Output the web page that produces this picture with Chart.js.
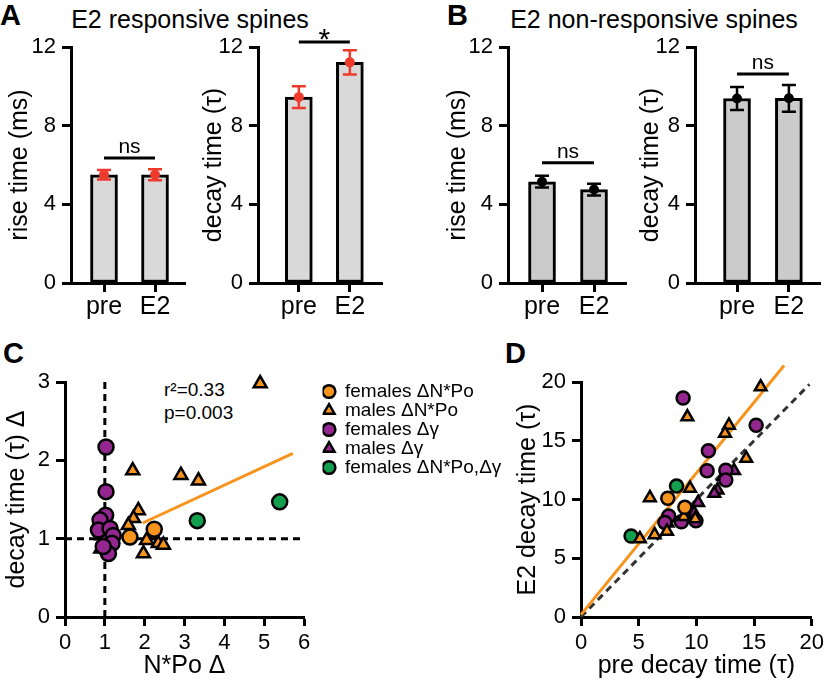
<!DOCTYPE html>
<html>
<head>
<meta charset="utf-8">
<script src="https://cdn.jsdelivr.net/npm/chart.js@4.4.0/dist/chart.umd.min.js"></script>
<style>
  body { margin: 0; background: #fff; }
  #fig { position: relative; width: 828px; height: 683px; overflow: hidden; font-family: 'Liberation Sans', Arial, sans-serif; color: #000; }
  #fig canvas { position: absolute; }
  .lab { position: absolute; font-weight: bold; font-size: 29px; line-height: 1; }
  .ttl { position: absolute; font-size: 25px; line-height: 1; white-space: nowrap; transform: translateX(-50%); }
  .stat { position: absolute; font-size: 19px; line-height: 1; white-space: nowrap; }
</style>
</head>
<body>
<div id="fig">
  <div class="lab" style="left:0px;top:1px">A</div>
  <div class="lab" style="left:447px;top:1px">B</div>
  <div class="lab" style="left:3px;top:339px">C</div>
  <div class="lab" style="left:505px;top:339px">D</div>
  <div class="ttl" style="left:190px;top:7px">E2 responsive spines</div>
  <div class="ttl" style="left:654px;top:7px">E2 non-responsive spines</div>
  <div class="stat" style="left:164px;top:380px">r²=0.33</div>
  <div class="stat" style="left:164px;top:403px">p=0.003</div>

  <canvas id="aRise" width="199" height="310" style="left:1px;top:20px"></canvas>
  <canvas id="aDecay" width="205" height="310" style="left:195px;top:20px"></canvas>
  <canvas id="bRise" width="201" height="310" style="left:439px;top:20px"></canvas>
  <canvas id="bDecay" width="196" height="310" style="left:632px;top:20px"></canvas>
  <canvas id="cScatter" width="522" height="353" style="left:-2px;top:330px"></canvas>
  <canvas id="dScatter" width="319" height="353" style="left:509px;top:330px"></canvas>
</div>
<script>
const groups = ['pre', 'E2'];

// bar panels: mean and sem
const riseResp = [5.5, 5.5];
const riseRespSem = [0.24, 0.28];
const decayResp = [9.45, 11.22];
const decayRespSem = [0.55, 0.62];
const riseNonResp = [5.15, 4.75];
const riseNonRespSem = [0.3, 0.3];
const decayNonResp = [9.38, 9.39];
const decayNonRespSem = [0.58, 0.68];

const seriesNames = ['females ΔN*Po', 'males ΔN*Po', 'females Δγ', 'males Δγ', 'females ΔN*Po,Δγ'];

// panel C: [N*Po delta, decay time delta]
const cFemalesNPo = [[1.63, 1.02], [2.24, 1.12]];
const cMalesNPo = [[4.9, 2.98], [1.7, 1.87], [2.91, 1.81], [3.35, 1.74], [1.84, 1.36], [1.72, 1.26],
  [1.59, 1.17], [2.05, 0.98], [1.97, 0.81], [2.34, 0.94], [2.47, 0.92]];
const cFemalesGam = [[1.03, 2.17], [1.03, 1.6], [1.02, 1.3], [0.88, 1.24], [0.84, 1.11], [1.13, 1.13],
  [1.21, 1.04], [1.18, 0.94], [1.09, 0.81], [0.96, 0.9]];
const cMalesGam = [[0.93, 1.04], [0.9, 0.87], [1.05, 0.96], [0.97, 0.92], [1.0, 1.0]];
const cFemalesBoth = [[3.32, 1.23], [5.39, 1.47]];
const cFit = [[1.95, 1.2], [5.72, 2.09]];
const cBaseH = [[0, 1], [6, 1]];
const cBaseV = [[1, 0], [1, 3]];

// panel D: [pre decay, E2 decay]
const dFemalesNPo = [[7.52, 10.1], [9.0, 9.34]];
const dMalesNPo = [[15.57, 19.58], [9.22, 17.03], [12.82, 16.32], [12.48, 15.62], [14.32, 13.5], [9.45, 10.95],
  [5.97, 10.15], [8.91, 8.54], [9.9, 8.35], [7.45, 7.3], [6.38, 7.0], [5.1, 6.66]];
const dFemalesGam = [[8.85, 18.64], [15.18, 16.32], [11.04, 14.15], [10.93, 12.45], [12.55, 12.5], [12.55, 11.66],
  [9.96, 8.2], [7.6, 8.6], [8.7, 8.1], [7.27, 8.05]];
const dMalesGam = [[13.26, 12.45], [12.34, 11.94], [11.83, 10.8], [11.55, 10.52], [10.15, 9.73], [9.8, 8.85], [7.5, 8.0]];
const dFemalesBoth = [[8.28, 11.15], [4.34, 6.9]];
const dFit = [[0, 0.2], [17.6, 21.4]];
const dUnity = [[0, 0], [19.8, 19.8]];

const ORANGE = '#F7941D';
const PURPLE = '#93278F';
const GREEN = '#13A04E';
const RED = '#EE3A2C';
const FONT = "'Liberation Sans', Arial, sans-serif";

Chart.defaults.font.family = FONT;
Chart.defaults.color = '#000';

const xy = pairs => pairs.map(p => ({ x: p[0], y: p[1] }));
const byGroup = vals => vals.map((v, i) => ({ x: i, y: v }));

const errorBars = {
  id: 'errBars',
  afterDatasetsDraw(chart, args, o) {
    const { ctx, scales: { x, y } } = chart;
    ctx.save();
    ctx.strokeStyle = o.color;
    ctx.lineWidth = 2.5;
    o.means.forEach((m, i) => {
      const px = x.getPixelForValue(i);
      const top = y.getPixelForValue(m + o.sem[i]);
      const bot = y.getPixelForValue(m - o.sem[i]);
      ctx.beginPath();
      ctx.moveTo(px, top); ctx.lineTo(px, bot);
      ctx.moveTo(px - 7, top); ctx.lineTo(px + 7, top);
      ctx.moveTo(px - 7, bot); ctx.lineTo(px + 7, bot);
      ctx.stroke();
    });
    ctx.restore();
  }
};

const sigBracket = {
  id: 'sig',
  afterDraw(chart, args, o) {
    const { ctx, scales: { x, y } } = chart;
    const x0 = x.getPixelForValue(0), x1 = x.getPixelForValue(1);
    const py = y.getPixelForValue(o.level);
    ctx.save();
    ctx.strokeStyle = '#000';
    ctx.lineWidth = 3;
    ctx.beginPath(); ctx.moveTo(x0, py); ctx.lineTo(x1, py); ctx.stroke();
    ctx.fillStyle = '#000';
    ctx.textAlign = 'center';
    ctx.textBaseline = 'alphabetic';
    ctx.font = o.size + 'px ' + FONT;
    ctx.fillText(o.text, (x0 + x1) / 2, py + o.dy);
    ctx.restore();
  }
};

function axisStyle() {
  return {
    grid: { drawOnChartArea: false, tickLength: 9, tickWidth: 3, tickColor: '#000', offset: false },
    border: { display: true, width: 3, color: '#000' }
  };
}

function barPanel(id, vals, sem, o) {
  return new Chart(document.getElementById(id), {
    type: 'bar',
    data: {
      datasets: [
        { type: 'scatter', data: byGroup(vals), pointRadius: 5, pointBackgroundColor: o.dot, pointBorderWidth: 0 },
        { data: byGroup(vals), backgroundColor: o.fill, borderColor: '#000', borderWidth: 3,
          borderSkipped: false, barThickness: 27 }
      ]
    },
    options: {
      responsive: false, animation: false, events: [],
      layout: { padding: { left: 0, top: 27, right: o.padR, bottom: 0 } },
      plugins: {
        legend: { display: false }, tooltip: { enabled: false },
        errBars: { means: vals, sem: sem, color: o.dot },
        sig: o.sig
      },
      scales: {
        x: {
          type: 'linear', offset: false, min: o.xMin, max: o.xMax,
          ...axisStyle(),
          afterBuildTicks: s => { s.ticks = groups.map((g, i) => ({ value: i })); },
          afterFit: s => { s.height = 47; },
          ticks: { callback: v => groups[v], font: { size: 25 }, padding: 0, maxRotation: 0 }
        },
        y: {
          min: 0, max: 12,
          ...axisStyle(),
          afterFit: s => { s.width = o.yW; },
          ticks: { stepSize: 4, font: { size: 22 }, padding: 6 },
          title: { display: true, text: o.yTitle, font: { size: 25 }, padding: { top: 4, bottom: 0 } }
        }
      }
    },
    plugins: [errorBars, sigBracket]
  });
}

barPanel('aRise', riseResp, riseRespSem, {
  yTitle: 'rise time (ms)', fill: '#d9d9d9', dot: RED, yW: 70, padR: 15, xMin: -0.647, xMax: 1.588,
  sig: { text: 'ns', level: 6.35, size: 21, dy: -5 }
});
barPanel('aDecay', decayResp, decayRespSem, {
  yTitle: 'decay time (τ)', fill: '#d9d9d9', dot: RED, yW: 63, padR: 18, xMin: -0.8, xMax: 1.63,
  sig: { text: '*', level: 12.25, size: 30, dy: 7 }
});
barPanel('bRise', riseNonResp, riseNonRespSem, {
  yTitle: 'rise time (ms)', fill: '#cbcbcb', dot: '#000', yW: 69, padR: 14, xMin: -0.654, xMax: 1.615,
  sig: { text: 'ns', level: 6.12, size: 21, dy: -5 }
});
barPanel('bDecay', decayNonResp, decayNonRespSem, {
  yTitle: 'decay time (τ)', fill: '#cbcbcb', dot: '#000', yW: 63, padR: 8, xMin: -0.81, xMax: 1.6,
  sig: { text: 'ns', level: 10.63, size: 21, dy: -5 }
});

function pointSet(label, pairs, color, shape, r) {
  return { label, data: xy(pairs), pointStyle: shape, pointRadius: r, backgroundColor: color,
    pointBackgroundColor: color, borderColor: '#000', pointBorderColor: '#000', borderWidth: 2.5,
    pointBorderWidth: 2.5, clip: false };
}
function lineSet(pairs, color, dash) {
  return { data: xy(pairs), showLine: true, pointRadius: 0, borderColor: color, borderWidth: 3,
    borderDash: dash, clip: false };
}

function scatterAxes(o) {
  return {
    x: {
      type: 'linear', min: o.xMin, max: o.xMax,
      ...axisStyle(),
      afterFit: s => { s.height = 66; },
      ticks: { stepSize: o.xStep, font: { size: 22 }, padding: 4, maxRotation: 0 },
      title: { display: true, text: o.xTitle, font: { size: 25 }, padding: { top: 0, bottom: 2 } }
    },
    y: {
      min: o.yMin, max: o.yMax,
      ...axisStyle(),
      afterFit: s => { s.width = o.yW; },
      ticks: { stepSize: o.yStep, font: { size: 22 }, padding: 6 },
      title: { display: true, text: o.yTitle, font: { size: 25 }, padding: { top: 4, bottom: 0 } }
    }
  };
}

const cAxes = scatterAxes({ xMin: 0, xMax: 6, xStep: 1, yMin: 0, yMax: 3, yStep: 1, yW: 67,
  xTitle: 'N*Po Δ', yTitle: 'decay time (τ) Δ' });
// empty right-hand box that keeps the legend away from the plot edge
cAxes.gap = {
  type: 'linear', position: 'right', display: true,
  grid: { display: false }, border: { display: false }, ticks: { display: false },
  afterFit: s => { s.width = 18.5; }
};

const cChart = new Chart(document.getElementById('cScatter'), {
  type: 'scatter',
  data: {
    datasets: [
      pointSet(seriesNames[0], cFemalesNPo, ORANGE, 'circle', 7.5),
      pointSet(seriesNames[1], cMalesNPo, ORANGE, 'triangle', 7.5),
      pointSet(seriesNames[2], cFemalesGam, PURPLE, 'circle', 7.5),
      pointSet(seriesNames[3], cMalesGam, PURPLE, 'triangle', 7.5),
      pointSet(seriesNames[4], cFemalesBoth, GREEN, 'circle', 7.5),
      lineSet(cFit, ORANGE, []),
      lineSet(cBaseH, '#000', [7, 5]),
      lineSet(cBaseV, '#000', [7, 5])
    ]
  },
  options: {
    responsive: false, animation: false, events: [],
    layout: { padding: { left: 0, top: 52, right: 0, bottom: 0 } },
    plugins: {
      tooltip: { enabled: false },
      legend: {
        position: 'right', align: 'start', maxWidth: 260,
        labels: {
          usePointStyle: true, boxWidth: 13, boxHeight: 9, padding: 0,
          font: { size: 19 }, color: '#000',
          filter: item => item.datasetIndex < 5
        }
      }
    },
    scales: cAxes
  }
});
// plot area must end at x = 6 -> canvas x 306
cChart.options.layout.padding.right = Math.max(0, cChart.chartArea.right - 306);
cChart.update();

new Chart(document.getElementById('dScatter'), {
  type: 'scatter',
  data: {
    datasets: [
      pointSet(seriesNames[0], dFemalesNPo, ORANGE, 'circle', 6.5),
      pointSet(seriesNames[1], dMalesNPo, ORANGE, 'triangle', 6.8),
      pointSet(seriesNames[2], dFemalesGam, PURPLE, 'circle', 6.5),
      pointSet(seriesNames[3], dMalesGam, PURPLE, 'triangle', 6.8),
      pointSet(seriesNames[4], dFemalesBoth, GREEN, 'circle', 6.5),
      lineSet(dFit, ORANGE, []),
      lineSet(dUnity, '#333', [7, 5])
    ]
  },
  options: {
    responsive: false, animation: false, events: [],
    layout: { padding: { left: 0, top: 52, right: 12, bottom: 0 } },
    plugins: { legend: { display: false }, tooltip: { enabled: false } },
    scales: scatterAxes({ xMin: 0, xMax: 20, xStep: 5, yMin: 0, yMax: 20, yStep: 5, yW: 72,
      xTitle: 'pre decay time (τ)', yTitle: 'E2 decay time (τ)' })
  }
});
</script>
</body>
</html>
